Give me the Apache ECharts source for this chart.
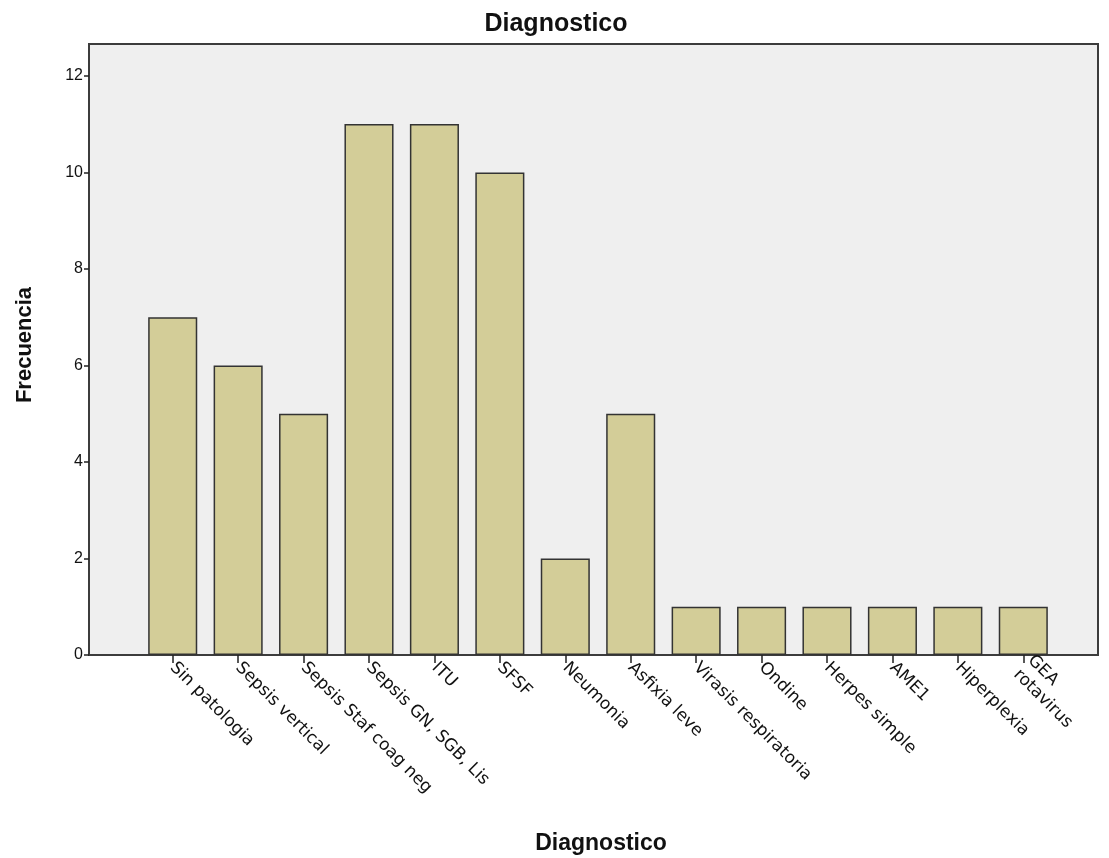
<!DOCTYPE html>
<html>
<head>
<meta charset="utf-8">
<script src="https://cdn.jsdelivr.net/npm/echarts@6/dist/echarts.min.js"></script>
<style>html,body{margin:0;padding:0;background:#fff;}#c{width:1109px;height:858px;}</style>
</head>
<body>
<div id="c"></div>
<script>
const categories = ["Sin patologia","Sepsis vertical","Sepsis Staf coag neg","Sepsis GN, SGB, Lis","ITU","SFSF","Neumonia","Asfixia leve","Virasis respiratoria","Ondine","Herpes simple","AME1","Hiperplexia","GEA\nrotavirus"];
const frecuencia = [7,6,5,11,11,10,2,5,1,1,1,1,1,1];
const yTicks = [0,2,4,6,8,10,12];

const chart = echarts.init(document.getElementById('c'));
const font = 'Arial, "Liberation Sans", sans-serif';
chart.setOption({
  backgroundColor: '#ffffff',
  animation: false,
  title: {
    text: 'Diagnostico', left: 551, top: 7, textAlign: 'center',
    textStyle: {fontFamily: font, fontSize: 25, fontWeight: 'bold', color: '#111'}
  },
  graphic: [{
    type: 'rect', z: -10, silent: true,
    shape: {x: 89, y: 44, width: 1009, height: 611},
    style: {fill: '#efefef', stroke: '#3c3c3c', lineWidth: 2}
  }, {
    type: 'text', rotation: Math.PI/2, z: 10,
    style: {text: 'Frecuencia', font: 'bold 22px ' + font, fill: '#111', textAlign: 'center', textVerticalAlign: 'middle'},
    x: 25, y: 345
  }],
  grid: {left: 140, top: 44, width: 916, bottom: 203, containLabel: false, outerBoundsMode: 'none'},
  xAxis: {
    type: 'category', data: categories,
    name: 'Diagnostico', nameLocation: 'middle', nameGap: 177,
    nameTextStyle: {fontFamily: font, fontSize: 23, fontWeight: 'bold', color: '#111', padding: [0,0,0,6]},
    axisLine: {show: false},
    axisTick: {show: true, alignWithLabel: true, length: 8, lineStyle: {color: '#222', width: 1.5}},
    axisLabel: {rotate: -45, interval: 0, margin: 10, fontFamily: '"DejaVu Sans", Verdana, sans-serif', fontSize: 17, color: '#111', lineHeight: 20}
  },
  yAxis: {
    type: 'value', min: 0, max: 12.66, interval: 2, offset: 51,
    axisLine: {show: true, lineStyle: {color: '#3c3c3c', width: 2}},
    axisTick: {show: true, length: 5, lineStyle: {color: '#222', width: 1.5}},
    axisLabel: {fontFamily: font, fontSize: 16, color: '#111', margin: 6, showMaxLabel: false,
      formatter: v => yTicks.indexOf(v) >= 0 ? String(v) : ''},
    splitLine: {show: false}
  },
  series: [{
    type: 'bar', data: frecuencia, barCategoryGap: '25%',
    itemStyle: {color: '#d3cd98', borderColor: '#333', borderWidth: 1.5}
  }]
});
</script>
</body>
</html>
